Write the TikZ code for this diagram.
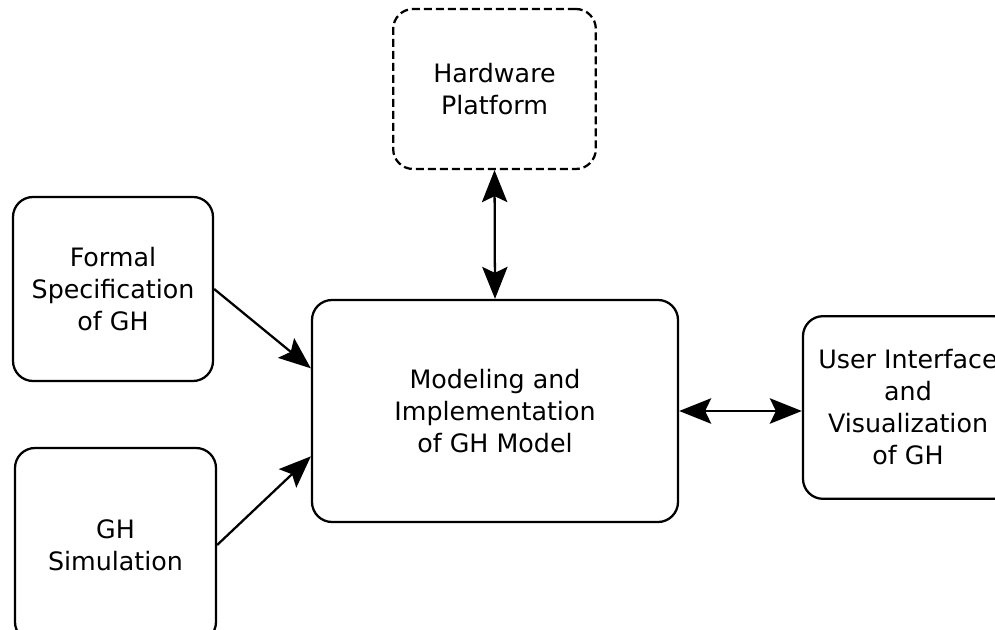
\documentclass[tikz,border=0pt]{standalone}
\usepackage{fontspec}
\setmainfont{DejaVu Sans}
\usetikzlibrary{arrows.meta}

\begin{document}
\begin{tikzpicture}[x=0.75pt,y=-0.75pt,
    block/.style={draw,line width=1.7pt,rounded corners=15pt,align=center,
      inner sep=0pt,font=\fontsize{19}{24}\selectfont},
    >={Stealth[length=24pt,width=19pt,inset=4.5pt]}]
  \useasboundingbox (0,0) rectangle (995,630);
  \node (hw) [block,dashed,dash pattern=on 6pt off 3pt,minimum width=152pt,minimum height=120pt]
    at (494.5,89) {Hardware\\Platform};
  \node (formal) [block,minimum width=150pt,minimum height=138pt]
    at (113,289) {Formal\\Specification\\of GH};
  \node (sim) [block,minimum width=150.75pt,minimum height=145.5pt]
    at (115.5,545) {GH\\Simulation};
  \node (model) [block,minimum width=274.5pt,minimum height=166.5pt]
    at (495,411) {Modeling and\\Implementation\\of GH Model};
  \node (ui) [block,minimum width=157.5pt,minimum height=137pt]
    at (908,407.5) {User Interface\\and\\Visualization\\of GH};
  \path[->,line width=1.7pt]
    (formal.east) edge ([yshift=32pt]model.west)
    (sim.east) edge ([yshift=-34pt]model.west);
  \path[<->,line width=1.7pt]
    (hw.south) edge (model.north)
    (model.east) edge (model.east -| ui.west);
\end{tikzpicture}
\end{document}
